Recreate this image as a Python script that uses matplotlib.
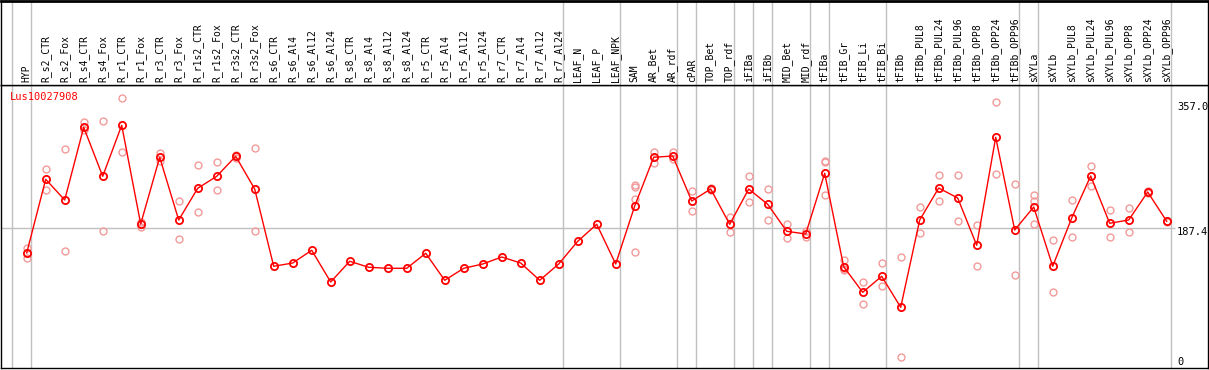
import numpy as np
import matplotlib
matplotlib.use('Agg')
import matplotlib.pyplot as plt
import matplotlib.transforms as mtransforms

# probki (kolejnosc jak na osi x)
samples = ['HYP', 'R_s2_CTR', 'R_s2_Fox', 'R_s4_CTR', 'R_s4_Fox', 'R_r1_CTR', 'R_r1_Fox',
           'R_r3_CTR', 'R_r3_Fox', 'R_r1s2_CTR', 'R_r1s2_Fox', 'R_r3s2_CTR', 'R_r3s2_Fox',
           'R_s6_CTR', 'R_s6_Al4', 'R_s6_Al12', 'R_s6_Al24', 'R_s8_CTR', 'R_s8_Al4',
           'R_s8_Al12', 'R_s8_Al24', 'R_r5_CTR', 'R_r5_Al4', 'R_r5_Al12', 'R_r5_Al24',
           'R_r7_CTR', 'R_r7_Al4', 'R_r7_Al12', 'R_r7_Al24', 'LEAF_N', 'LEAF_P', 'LEAF_NPK',
           'SAM', 'AR_Bet', 'AR_rdf', 'cPAR', 'TOP_Bet', 'TOP_rdf', 'iFIBa', 'iFIBb',
           'MID_Bet', 'MID_rdf', 'tFIBa', 'tFIB_Gr', 'tFIB_Li', 'tFIB_Bi', 'tFIBb',
           'tFIBb_PUL8', 'tFIBb_PUL24', 'tFIBb_PUL96', 'tFIBb_OPP8', 'tFIBb_OPP24',
           'tFIBb_OPP96', 'sXYLa', 'sXYLb', 'sXYLb_PUL8', 'sXYLb_PUL24', 'sXYLb_PUL96',
           'sXYLb_OPP8', 'sXYLb_OPP24', 'sXYLb_OPP96']

# srednie
means = [152.6, 255.8, 226.8, 328.6, 260.0, 331.4, 193.2, 286.6, 198.8, 243.2, 260.0,
         288.0, 242.2, 134.0, 138.6, 156.4, 112.0, 141.0, 132.6, 131.2, 131.2, 152.2,
         114.4, 131.2, 137.2, 147.0, 138.6, 114.4, 137.2, 169.0, 192.8, 137.2, 218.4,
         286.6, 288.4, 225.4, 242.2, 192.8, 242.2, 220.8, 183.0, 179.2, 264.2, 133.4,
         97.6, 120.0, 76.6, 198.8, 243.6, 229.6, 163.4, 314.6, 184.8, 217.0, 134.0,
         201.6, 260.4, 194.2, 198.8, 238.0, 197.0]

# powtorzenia (indeks probki, wartosc)
rep_idx = [0, 0, 0, 1, 1, 2, 2, 3, 3, 4, 4, 5, 5, 6, 6, 7, 7, 8, 8, 9, 9, 10, 10, 11, 11,
           12, 12, 32, 32, 32, 32, 33, 33, 34, 34, 35, 35, 36, 36, 37, 37, 38, 38, 39, 39,
           40, 40, 41, 41, 42, 42, 42, 43, 43, 43, 44, 44, 45, 45, 46, 46, 47, 47, 48, 48,
           49, 49, 50, 50, 51, 51, 52, 52, 53, 53, 53, 54, 54, 55, 55, 56, 56, 57, 57,
           58, 58, 59, 59, 60, 60]
rep_val = [160.0, 152.6, 145.2, 270.2, 240.4, 297.8, 155.0, 336.0, 324.8, 337.0, 183.4,
           369.2, 294.0, 196.4, 189.4, 293.0, 281.4, 225.4, 171.8, 275.4, 209.6, 279.6,
           240.4, 289.8, 286.3, 299.2, 183.0, 247.4, 244.6, 228.2, 153.6, 294.0, 278.2,
           294.4, 283.8, 239.0, 211.4, 243.6, 240.8, 203.4, 181.6, 260.0, 223.6, 242.2,
           198.4, 193.2, 173.2, 183.4, 174.6, 281.4, 279.6, 233.4, 142.4, 130.2, 128.8,
           112.0, 81.2, 138.6, 106.0, 147.0, 7.0, 217.0, 180.2, 261.4, 225.0, 261.4,
           197.0, 191.8, 134.0, 364.4, 262.8, 248.8, 121.4, 233.4, 225.0, 193.2, 170.4,
           98.0, 226.8, 175.0, 274.0, 246.4, 212.8, 175.0, 215.6, 181.6, 239.8, 236.6,
           197.8, 196.0]

# granice grup (po ktorej probce szara linia)
group_ends = [-1, 0, 28, 31, 34, 35, 37, 38, 39, 41, 42, 45, 52, 53, 60]

ref_line = 187.4
y_ticks = [357.0, 187.4, 0]
gene = 'Lus10027908'

W, H = 1209, 370
fig = plt.figure(figsize=(W / 100, H / 100), dpi=100)
mono = 'DejaVu Sans Mono'

# zakresy osi dobrane tak, zeby punkty wypadly w tych samych pikselach
x_lo, x_hi = (1 - 26.7) / 19, (1208 - 26.7) / 19
ax = fig.add_axes([1 / W, (H - 368) / H, 1207 / W, 283 / H])
hd = fig.add_axes([1 / W, (H - 85) / H, 1207 / W, 84 / H])
ax.set_xlim(x_lo, x_hi)
ax.set_ylim(-8.4, 387.8)
hd.set_xlim(x_lo, x_hi)
hd.set_ylim(0, 1)

for a in (ax, hd):
    a.set_xticks([])
    a.set_yticks([])
    for s in a.spines.values():
        s.set_color('black')
        s.set_linewidth(1.0)
    for g in group_ends:
        a.axvline(g + 4 / 19, color='#c0c0c0', lw=1.0, zorder=0)
hd.spines['top'].set_linewidth(2.0)

# naglowek z nazwami probek
x = np.arange(len(samples))
for i, name in enumerate(samples):
    hd.text(i, 0.03, name, rotation=90, ha='center', va='bottom',
            fontsize=7, family=mono, color='black')

# linia odniesienia
ax.hlines(ref_line, x_lo, (1175 - 26.7) / 19, color='#c0c0c0', lw=1.0, zorder=0)

ax.plot(rep_idx, rep_val, 'o', ls='none', ms=5, mfc='none', mec='#f29a9a', mew=1.0, zorder=2)
ax.plot(x, means, '-', color='red', lw=1.0, zorder=3)
ax.plot(x, means, 'o', ls='none', ms=5.2, mfc='none', mec='red', mew=1.3, zorder=4)

ax.text(9 / 1207, (368 - 96.7) / 283, gene, transform=ax.transAxes, color='red',
        fontsize=7.5, family=mono, va='center', ha='left')

# etykiety osi y po prawej
tx = (1177 - 26.7) / 19
for v in y_ticks:
    tr = ax.transData
    if v == ref_line:
        tr = tr + mtransforms.ScaledTranslation(0, -4 / 100, fig.dpi_scale_trans)
    lab = '%.1f' % v if v != 0 else '0'
    ax.text(tx, v, lab, transform=tr, fontsize=7.5, family=mono, va='center',
            ha='left', color='black', clip_on=False)

fig.savefig('out.png', dpi=100)
